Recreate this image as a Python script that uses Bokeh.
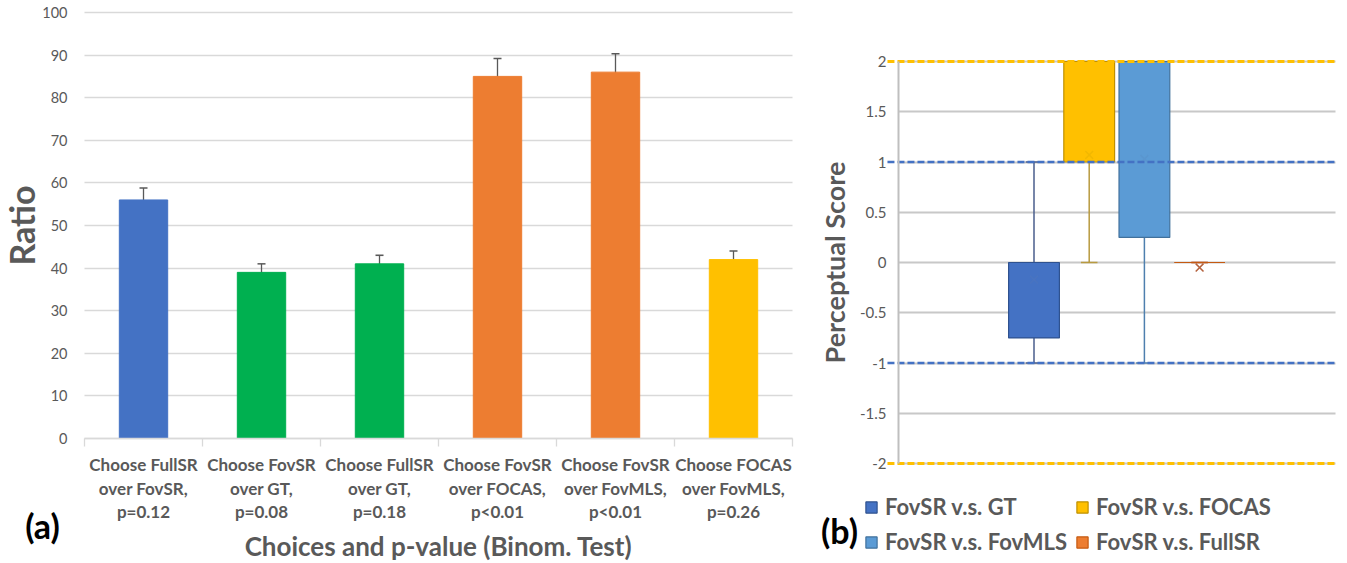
import numpy as np
from bokeh.plotting import figure
from bokeh.models import (Range1d, FixedTicker, Whisker, TeeHead, ColumnDataSource,
                          Label, Legend, LegendItem, Grid)
from bokeh.layouts import row
from bokeh.embed import file_html
from bokeh.resources import INLINE

# ---------------- Panel (a) data ----------------
choices = ["Choose FullSR\nover FovSR,", "Choose FovSR\nover GT,", "Choose FullSR\nover GT,",
           "Choose FovSR\nover FOCAS,", "Choose FovSR\nover FovMLS,", "Choose FOCAS\nover FovMLS,"]
p_values = ["p=0.12", "p=0.08", "p=0.18", "p<0.01", "p<0.01", "p=0.26"]
ratios = [56, 39, 41, 85, 86, 42]
ratio_err = [2.8, 2.0, 2.0, 4.2, 4.3, 2.0]
bar_colors = ["#4472C4", "#00B050", "#00B050", "#ED7D31", "#ED7D31", "#FFC000"]
ratio_ticks = [0, 10, 20, 30, 40, 50, 60, 70, 80, 90, 100]

# ---------------- Panel (b) data ----------------
series = ["FovSR v.s. GT", "FovSR v.s. FOCAS", "FovSR v.s. FovMLS", "FovSR v.s. FullSR"]
w_low = [-1, 0, -1, 0]
q1 = [-0.75, 1, 0.25, 0]
q3 = [0, 2, 2, 0]
w_high = [1, 2, 2, 0]
means = [-0.17, 1.07, 1.03, -0.05]
box_fill = ["#4472C4", "#FFC000", "#5B9BD5", "#ED7D31"]
box_line = ["#2F528F", "#BF9000", "#41719C", "#C55A11"]
whisk_color = ["#4A5E8C", "#B89A40", "#4E7FAE", "#C0643C"]
mean_color = ["#4A74C0", "#F2B800", "#5A96CF", "#B5623E"]
score_ticks = [-2, -1.5, -1, -0.5, 0, 0.5, 1, 1.5, 2]
score_labels = ["-2", "-1.5", "-1", "-0.5", "0", "0.5", "1", "1.5", "2"]
outer_refs = [-2, 2]
inner_refs = [-1, 1]

FONT = "Lato"
GRAY = "#595959"
HAS_CB = "cross_bounds" in Grid.properties()

# layout (view) parameters
FIG_H = 563
A_W, B_W = 800, 547
A_XR = (-1.2119, 5.5678)
A_YR = (-29.343, 102.817)
A_PLOT_X = (-0.5, 5.5)
A_PLOT_Y = (0, 100)
B_XR = (-4.2301, 5.6793)
B_YR = (-2.995, 2.607)
B_PLOT_X = (-2.4547, 5.462)
B_PLOT_Y = (-2, 2)


def base_fig(w, xr, yr):
    f = figure(width=w, height=FIG_H, x_range=Range1d(*xr), y_range=Range1d(*yr),
               output_backend="svg", toolbar_location=None,
               min_border=0, min_border_left=0, min_border_right=0,
               min_border_top=0, min_border_bottom=0)
    f.frame_align = False
    f.outline_line_color = None
    f.xgrid.grid_line_color = None
    return f


# ================= Figure (a) =================
fa = base_fig(A_W, A_XR, A_YR)
xs = list(range(len(ratios)))

fa.ygrid.ticker = FixedTicker(ticks=ratio_ticks)
fa.ygrid.bounds = A_PLOT_Y
if HAS_CB:
    fa.ygrid.grid_line_color = "#D9D9D9"
    fa.ygrid.grid_line_width = 1.3
    fa.ygrid.cross_bounds = A_PLOT_X
else:
    fa.ygrid.grid_line_color = None
    fa.segment(x0=[A_PLOT_X[0]] * len(ratio_ticks), x1=[A_PLOT_X[1]] * len(ratio_ticks),
               y0=ratio_ticks, y1=ratio_ticks, line_color="#D9D9D9", line_width=1.3)

src = ColumnDataSource(dict(x=xs, top=ratios, color=bar_colors,
                            upper=[r + e for r, e in zip(ratios, ratio_err)],
                            lower=[r - e for r, e in zip(ratios, ratio_err)]))
fa.vbar(x="x", top="top", width=0.41, color="color", source=src)
fa.add_layout(Whisker(base="x", upper="upper", lower="lower", source=src,
                      line_color="#595959", line_width=1.3,
                      upper_head=TeeHead(size=8, line_color="#595959", line_width=1.5),
                      lower_head=TeeHead(size=8, line_color="#595959", line_width=1.5)))

ya = fa.yaxis[0]
ya.fixed_location = A_PLOT_X[0]
ya.bounds = A_PLOT_Y
ya.ticker = FixedTicker(ticks=ratio_ticks)
ya.axis_line_color = None
ya.major_tick_line_color = None
ya.minor_tick_line_color = None
ya.major_label_text_font = FONT
ya.major_label_text_font_size = "14.5px"
ya.major_label_text_color = GRAY
ya.major_label_standoff = 11
ya.axis_label = "Ratio"
ya.axis_label_text_font = FONT
ya.axis_label_text_font_size = "34px"
ya.axis_label_text_font_style = "bold"
ya.axis_label_text_color = GRAY
ya.axis_label_standoff = -3

xa = fa.xaxis[0]
xa.fixed_location = A_PLOT_Y[0]
xa.bounds = A_PLOT_X
xa.ticker = FixedTicker(ticks=xs, minor_ticks=[x - 0.5 for x in xs] + [xs[-1] + 0.5])
xa.major_label_overrides = {x: f"{c}\n{p}" for x, c, p in zip(xs, choices, p_values)}
xa.major_tick_line_color = None
xa.major_tick_out = 0
xa.major_tick_in = 0
xa.minor_tick_out = 8
xa.minor_tick_in = 0
xa.minor_tick_line_color = "#D9D9D9"
xa.minor_tick_line_width = 1.3
xa.axis_line_color = "#D9D9D9"
xa.axis_line_width = 1.3
xa.major_label_text_font = FONT
xa.major_label_text_font_size = "17px"
xa.major_label_text_font_style = "bold"
xa.major_label_text_color = GRAY
xa.major_label_text_line_height = 1.1
xa.major_label_standoff = 8
xa.axis_label = "Choices and p-value (Binom. Test)"
xa.axis_label_text_font = FONT
xa.axis_label_text_font_size = "26px"
xa.axis_label_text_font_style = "bold"
xa.axis_label_text_color = GRAY
xa.axis_label_standoff = 5

fa.add_layout(Label(x=42, y=38, x_units="screen", y_units="screen", text="(a)",
                    text_font=FONT, text_font_size="34px", text_font_style="bold",
                    text_align="center", text_baseline="middle", text_color="black"))

# ================= Figure (b) =================
fb = base_fig(B_W, B_XR, B_YR)
pos = np.arange(len(series))
cap = 0.15

fb.ygrid.ticker = FixedTicker(ticks=score_ticks)
fb.ygrid.bounds = B_PLOT_Y
if HAS_CB:
    fb.ygrid.grid_line_color = "#C8C8C8"
    fb.ygrid.grid_line_width = 2
    fb.ygrid.cross_bounds = B_PLOT_X
else:
    fb.ygrid.grid_line_color = None
    fb.segment(x0=[B_PLOT_X[0]] * len(score_ticks), x1=[B_PLOT_X[1]] * len(score_ticks),
               y0=score_ticks, y1=score_ticks, line_color="#C8C8C8", line_width=2)

# whiskers
fb.segment(x0=pos, y0=w_low, x1=pos, y1=q1, line_color=whisk_color, line_width=1.5)
fb.segment(x0=pos, y0=q3, x1=pos, y1=w_high, line_color=whisk_color, line_width=1.5)
fb.segment(x0=pos - cap, y0=w_low, x1=pos + cap, y1=w_low, line_color=whisk_color, line_width=1.5)
fb.segment(x0=pos - cap, y0=w_high, x1=pos + cap, y1=w_high, line_color=whisk_color, line_width=1.5)

bsrc = ColumnDataSource(dict(x=pos, bottom=q1, top=q3, fill=box_fill, line=box_line))
boxes = fb.vbar(x="x", bottom="bottom", top="top", width=0.92, fill_color="fill",
                line_color="line", line_width=1.2, source=bsrc)
fb.scatter(x=pos, y=means, marker="x", size=11, line_color=mean_color, line_width=1.5)

# dashed reference lines (drawn across the plot area)
ref_x0 = B_PLOT_X[0] - 0.2
fb.segment(x0=[ref_x0] * len(outer_refs), x1=[B_PLOT_X[1]] * len(outer_refs),
           y0=outer_refs, y1=outer_refs, line_color="#FFC000", line_width=3, line_dash="7 3")
fb.segment(x0=[ref_x0] * len(inner_refs), x1=[B_PLOT_X[1]] * len(inner_refs),
           y0=inner_refs, y1=inner_refs, line_color="#4472C4", line_width=2.5, line_dash="7 3")

fb.xaxis.visible = False
yb = fb.yaxis[0]
yb.fixed_location = B_PLOT_X[0]
yb.bounds = B_PLOT_Y
yb.ticker = FixedTicker(ticks=score_ticks)
yb.major_label_overrides = {float(t): l for t, l in zip(score_ticks, score_labels)}
yb.axis_line_color = "#BFBFBF"
yb.axis_line_width = 2
yb.major_tick_line_color = None
yb.minor_tick_line_color = None
yb.major_label_text_font = FONT
yb.major_label_text_font_size = "15px"
yb.major_label_text_color = GRAY
yb.major_label_standoff = 6
yb.axis_label = "Perceptual Score"
yb.axis_label_text_font = FONT
yb.axis_label_text_font_size = "27px"
yb.axis_label_text_font_style = "bold"
yb.axis_label_text_color = GRAY
yb.axis_label_standoff = 6

items = [LegendItem(label=s, renderers=[boxes], index=i) for i, s in enumerate(series)]
legend = Legend(items=items, location=(64, 8), orientation="horizontal", nrows=2,
                glyph_width=14, glyph_height=14, label_text_font=FONT,
                label_text_font_size="22px", label_text_font_style="bold",
                label_text_color=GRAY, label_standoff=7, spacing=8, padding=0, margin=0,
                border_line_color=None, background_fill_color=None)
fb.add_layout(legend)

fb.add_layout(Label(x=39, y=33, x_units="screen", y_units="screen", text="(b)",
                    text_font=FONT, text_font_size="34px", text_font_style="bold",
                    text_align="center", text_baseline="middle", text_color="black"))

layout = row(fa, fb)
open("out.html", "w").write(file_html(layout, INLINE))
